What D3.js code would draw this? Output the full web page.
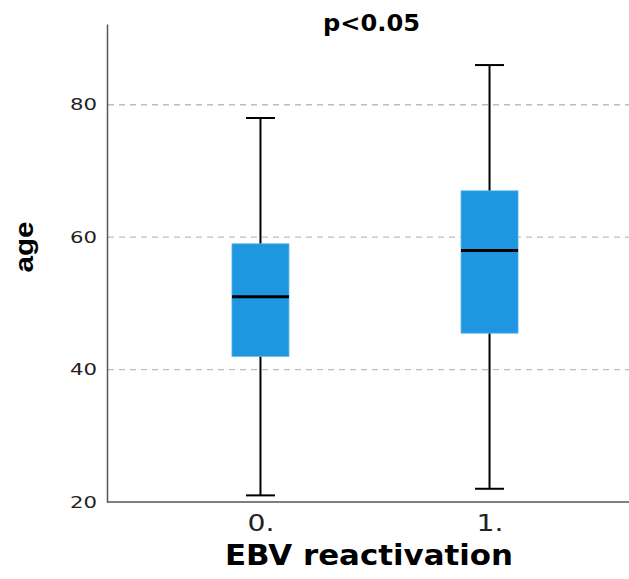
<!DOCTYPE html>
<html>
<head>
<meta charset="utf-8">
<script src="https://cdn.jsdelivr.net/npm/d3@7"></script>
<style>
  body { margin: 0; background: #fff; }
  svg { display: block; }
</style>
</head>
<body>
<div id="chart"></div>
<script>
// data
var groups = ["0.", "1."];
var whiskerLow = [21, 22];
var q1 = [42, 45.5];
var median = [51, 58];
var q3 = [59, 67];
var whiskerHigh = [78, 86];
var yTicks = [20, 40, 60, 80];
var gridTicks = [40, 60, 80];

var W = 629, H = 579;
var margin = {top: 24, right: 0, bottom: 77, left: 107};
var width = W - margin.left - margin.right,
    height = H - margin.top - margin.bottom;

var svg = d3.select("#chart").append("svg")
    .attr("width", W).attr("height", H);

var g = svg.append("g")
    .attr("transform", "translate(" + margin.left + "," + margin.top + ")");

var y = d3.scaleLinear().domain([20, 92.2]).range([height, 0]);
var x = d3.scalePoint().domain(groups).range([0, 536]).padding(0.67);

var boxW = 57, capW = 29;
var font = "'DejaVu Sans', Verdana, sans-serif";

// grid lines
g.selectAll(".grid").data(gridTicks).enter().append("line")
    .attr("class", "grid")
    .attr("x1", 1).attr("x2", width)
    .attr("y1", function(d) { return y(d); })
    .attr("y2", function(d) { return y(d); })
    .style("stroke", "#bdbdbd")
    .style("stroke-width", 1.3)
    .style("stroke-dasharray", "6,5");

// y axis
var yAxis = g.append("g").call(d3.axisLeft(y).tickValues(yTicks).tickSize(0).tickPadding(10));
yAxis.select(".domain").style("stroke", "#555").style("stroke-width", 1.5);
yAxis.selectAll("text")
    .style("font-family", font).style("font-size", "16px").style("fill", "#222")
    .attr("textLength", 27).attr("lengthAdjust", "spacingAndGlyphs");

// x axis
var xAxis = g.append("g")
    .attr("transform", "translate(0," + height + ")")
    .call(d3.axisBottom(x).tickSize(0).tickPadding(13));
xAxis.select(".domain").attr("d", "M0,0H" + width).style("stroke", "#555").style("stroke-width", 1.5);
xAxis.selectAll("text")
    .style("font-family", font).style("font-size", "23px").style("fill", "#222")
    .attr("textLength", 27).attr("lengthAdjust", "spacingAndGlyphs");

// boxes
var idx = d3.range(groups.length);
var box = g.selectAll(".box").data(idx).enter().append("g").attr("class", "box");

box.append("line")
    .attr("x1", function(i) { return x(groups[i]); })
    .attr("x2", function(i) { return x(groups[i]); })
    .attr("y1", function(i) { return y(whiskerLow[i]); })
    .attr("y2", function(i) { return y(whiskerHigh[i]); })
    .style("stroke", "#000").style("stroke-width", 2);

[whiskerLow, whiskerHigh].forEach(function(arr) {
  box.append("line")
      .attr("x1", function(i) { return x(groups[i]) - capW / 2; })
      .attr("x2", function(i) { return x(groups[i]) + capW / 2; })
      .attr("y1", function(i) { return y(arr[i]); })
      .attr("y2", function(i) { return y(arr[i]); })
      .style("stroke", "#000").style("stroke-width", 2);
});

box.append("rect")
    .attr("x", function(i) { return x(groups[i]) - boxW / 2; })
    .attr("width", boxW)
    .attr("y", function(i) { return y(q3[i]); })
    .attr("height", function(i) { return y(q1[i]) - y(q3[i]); })
    .style("fill", "#1e96e0")
    .style("stroke", "#5ab4ec").style("stroke-width", 0.8);

box.append("line")
    .attr("x1", function(i) { return x(groups[i]) - boxW / 2; })
    .attr("x2", function(i) { return x(groups[i]) + boxW / 2; })
    .attr("y1", function(i) { return y(median[i]); })
    .attr("y2", function(i) { return y(median[i]); })
    .style("stroke", "#000").style("stroke-width", 3);

// title
svg.append("text")
    .attr("x", 371.5).attr("y", 31)
    .attr("text-anchor", "middle")
    .style("font-family", font).style("font-weight", "bold").style("font-size", "23px")
    .attr("textLength", 97).attr("lengthAdjust", "spacingAndGlyphs")
    .text("p<0.05");

// x label
svg.append("text")
    .attr("x", 369).attr("y", 565)
    .attr("text-anchor", "middle")
    .style("font-family", font).style("font-weight", "bold").style("font-size", "29px")
    .attr("textLength", 288).attr("lengthAdjust", "spacingAndGlyphs")
    .text("EBV reactivation");

// y label
svg.append("text")
    .attr("transform", "translate(33,247) rotate(-90)")
    .attr("text-anchor", "middle")
    .style("font-family", "'Liberation Sans Narrow', 'Liberation Sans', Arial, sans-serif")
    .style("font-weight", "bold").style("font-size", "26px")
    .attr("textLength", 51).attr("lengthAdjust", "spacingAndGlyphs")
    .text("age");
</script>
</body>
</html>
